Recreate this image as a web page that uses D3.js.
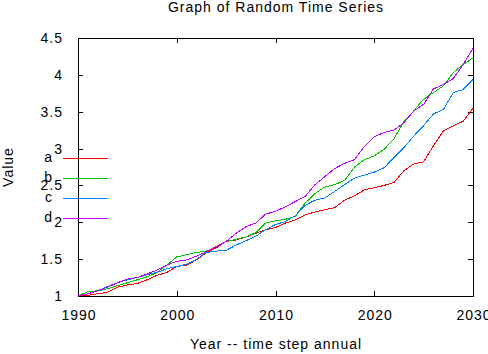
<!DOCTYPE html>
<html><head><meta charset="utf-8">
<script src="https://cdn.jsdelivr.net/npm/d3@7"></script>
<style>
body{margin:0;background:#fff;}
text{font-family:"Liberation Sans",Arial,sans-serif;font-size:14px;fill:#000;letter-spacing:1px;}
</style></head>
<body><svg id="c" width="488" height="354"></svg>
<script>
const years = d3.range(1990, 2031);
const seriesNames = ["a","b","c","d"];
const seriesColors = ["#ff0000","#00c000","#0080ff","#c000ff"];
const aVals = [1.00,1.01,1.03,1.05,1.12,1.15,1.17,1.22,1.28,1.32,1.40,
               1.42,1.49,1.59,1.65,1.74,1.76,1.80,1.85,1.90,1.93,
               1.99,2.03,2.10,2.14,2.17,2.20,2.30,2.36,2.44,2.47,
               2.50,2.54,2.70,2.79,2.82,3.04,3.24,3.31,3.37,3.55];
const bVals = [1.00,1.06,1.07,1.10,1.14,1.18,1.22,1.26,1.32,1.42,1.53,
               1.56,1.59,1.61,1.67,1.74,1.77,1.80,1.86,1.99,2.02,
               2.04,2.08,2.26,2.39,2.48,2.51,2.57,2.75,2.85,2.90,
               2.99,3.13,3.37,3.51,3.67,3.76,3.85,4.03,4.14,4.23];
const cVals = [1.00,1.03,1.07,1.13,1.18,1.22,1.25,1.29,1.32,1.37,1.40,
               1.43,1.50,1.59,1.61,1.62,1.69,1.75,1.81,1.90,1.97,
               2.01,2.09,2.23,2.30,2.33,2.42,2.51,2.60,2.64,2.68,
               2.74,2.88,3.01,3.17,3.31,3.47,3.53,3.76,3.80,3.94];
const dVals = [1.00,1.03,1.07,1.12,1.18,1.23,1.25,1.30,1.35,1.42,1.47,
               1.49,1.54,1.60,1.67,1.74,1.85,1.94,1.99,2.11,2.15,
               2.21,2.28,2.35,2.51,2.62,2.73,2.80,2.85,3.03,3.16,
               3.22,3.25,3.35,3.51,3.60,3.81,3.87,3.95,4.14,4.36];
const xTicks = [1990,2000,2010,2020,2030];
const yTicks = [1,1.5,2,2.5,3,3.5,4,4.5];
const allVals = [aVals,bVals,cVals,dVals];

const svg = d3.select("#c");
const L=78, R=473, T=38, B=296;
const x = d3.scaleLinear().domain([1990,2030]).range([L,R]);
const y = d3.scaleLinear().domain([1,4.5]).range([B,T]);

const g = svg.append("g").attr("shape-rendering","crispEdges");
const fmt = d3.format("~g");
g.append("g").attr("transform",`translate(0,${B})`)
  .call(d3.axisBottom(x).tickValues(xTicks).tickFormat(d3.format("d")).tickSizeInner(-5).tickSizeOuter(0).tickPadding(14))
  .call(s=>{s.select(".domain").remove();s.selectAll("text").attr("font-size",null).attr("font-family",null).attr("dx","0.5");});
g.append("g").attr("transform",`translate(0,${T})`)
  .call(d3.axisTop(x).tickValues(xTicks.slice(1,-1)).tickFormat("").tickSizeInner(-5).tickSizeOuter(0))
  .call(s=>s.select(".domain").remove());
g.append("g").attr("transform",`translate(${L},0)`)
  .call(d3.axisLeft(y).tickValues(yTicks).tickFormat(fmt).tickSizeInner(-5).tickSizeOuter(0).tickPadding(15))
  .call(s=>{s.select(".domain").remove();s.selectAll("text").attr("font-size",null).attr("font-family",null);});
g.append("g").attr("transform",`translate(${R},0)`)
  .call(d3.axisRight(y).tickValues(yTicks.slice(1,-1)).tickFormat("").tickSizeInner(-5).tickSizeOuter(0))
  .call(s=>s.select(".domain").remove());
g.selectAll(".tick line").attr("stroke","#000");
g.append("rect").attr("x",L).attr("y",T).attr("width",R-L).attr("height",B-T)
  .attr("fill","none").attr("stroke","#000");

const line = d3.line().x((d,i)=>x(years[i])).y(d=>y(d));
allVals.forEach((vals,k)=>{
  svg.append("path").datum(vals).attr("d",line).attr("fill","none")
    .attr("stroke",seriesColors[k]).attr("stroke-width",1).attr("shape-rendering","crispEdges");
});

seriesNames.forEach((n,k)=>{
  const ly = 158 + k*20;
  svg.append("text").attr("x",53).attr("y",ly).attr("text-anchor","end")
    .attr("dominant-baseline","middle").text(n);
  svg.append("line").attr("x1",63).attr("x2",108).attr("y1",ly).attr("y2",ly)
    .attr("stroke",seriesColors[k]).attr("shape-rendering","crispEdges");
});

svg.append("text").attr("x",(L+R)/2+0.5).attr("y",12).attr("text-anchor","middle").text("Graph of Random Time Series");
svg.append("text").attr("x",(L+R)/2+0.5).attr("y",349).attr("text-anchor","middle").text("Year -- time step annual");
svg.append("text").attr("transform",`translate(13,${(T+B)/2}) rotate(-90)`).attr("text-anchor","middle").text("Value");
</script></body></html>
